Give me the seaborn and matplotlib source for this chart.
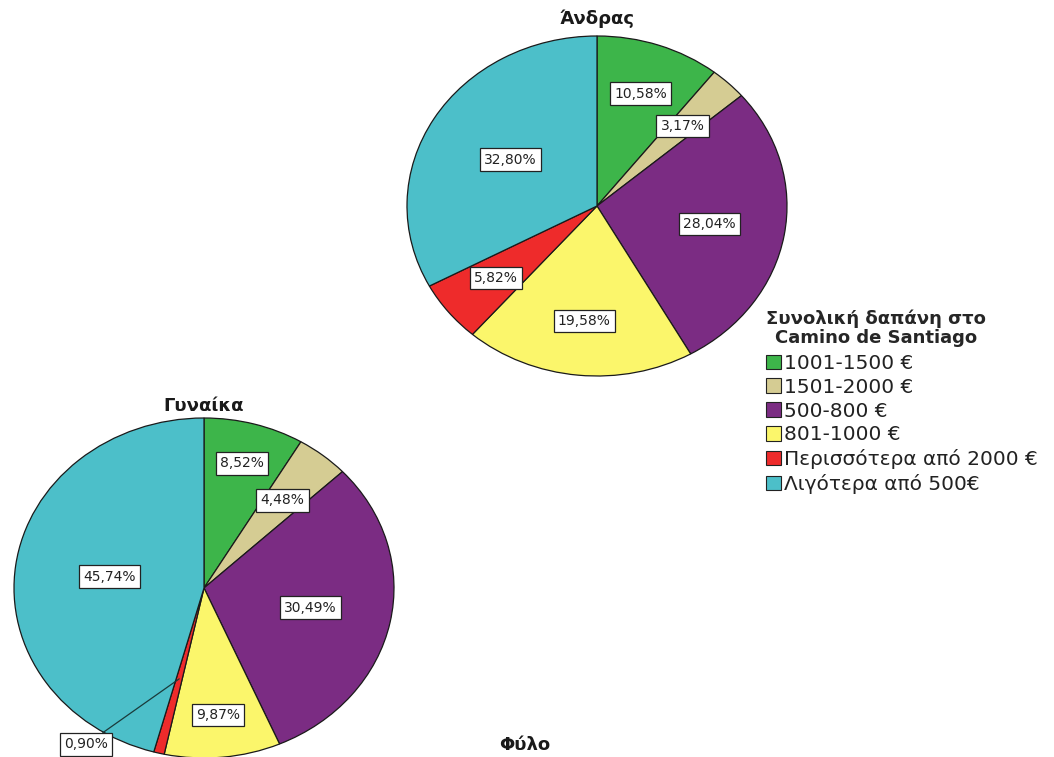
import matplotlib
matplotlib.use("Agg")
import matplotlib.pyplot as plt
from matplotlib.patches import Patch
import numpy as np
import seaborn as sns

sns.set_theme(style="white")
plt.rcParams["font.family"] = ["DejaVu Sans"]

# ─── data ────────────────────────────────────────────────────────────────────
categories = ["1001-1500 €", "1501-2000 €", "500-800 €", "801-1000 €",
              "Περισσότερα από 2000 €", "Λιγότερα από 500€"]
men_pct = [10.58, 3.17, 28.04, 19.58, 5.82, 32.80]
women_pct = [8.52, 4.48, 30.49, 9.87, 0.90, 45.74]
group_titles = ["Άνδρας", "Γυναίκα"]
legend_title = "Συνολική δαπάνη στο\nCamino de Santiago"
axis_title = "Φύλο"

colors = sns.color_palette(["#3DB54A", "#D5CC93", "#7B2C83", "#FBF66B", "#EE2B2B", "#4CBFC9"])

W, H = 1054, 757
fig = plt.figure(figsize=(W / 100, H / 100), dpi=100)
fig.patch.set_facecolor("white")


def px_axes(cx, cy, rx, ry):
    return fig.add_axes([(cx - rx) / W, 1 - (cy + ry) / H, 2 * rx / W, 2 * ry / H])


def fmt(v):
    return f"{v:.2f}".replace(".", ",") + "%"


def draw_pie(ax, values, label_r, title, title_off, callout=None):
    wedges, _ = ax.pie(values, colors=colors, startangle=90, counterclock=False,
                       radius=1, wedgeprops=dict(edgecolor="#1a1a1a", linewidth=0.9))
    ax.set_aspect("auto")
    ax.set_xlim(-1, 1)
    ax.set_ylim(-1, 1)
    ax.axis("off")
    box = dict(boxstyle="square,pad=0.3", facecolor="white", edgecolor="#222222", linewidth=0.9)
    for i, (w, v) in enumerate(zip(wedges, values)):
        mid = np.deg2rad((w.theta1 + w.theta2) / 2)
        if callout is not None and i == callout[0]:
            r0 = 0.55
            ax.annotate(fmt(v), xy=(r0 * np.cos(mid), r0 * np.sin(mid)),
                        xytext=callout[1], ha="center", va="center", fontsize=10,
                        color="#222222", bbox=box, annotation_clip=False,
                        arrowprops=dict(arrowstyle="-", color="#1a3a3a", lw=0.9,
                                        shrinkA=0, shrinkB=0))
            continue
        r = label_r[i]
        ax.text(r * np.cos(mid), r * np.sin(mid), fmt(v), ha="center", va="center",
                fontsize=10, color="#222222", bbox=box)
    ax.text(0, title_off, title, ha="center", va="bottom", fontsize=13, fontweight="bold",
            color="#1a1a1a")


ax_m = px_axes(597, 206, 190, 170)
draw_pie(ax_m, men_pct, [0.70, 0.65, 0.60, 0.68, 0.68, 0.53], group_titles[0], 1.05)

ax_w = px_axes(204, 588, 190, 170)
draw_pie(ax_w, women_pct, [0.76, 0.66, 0.57, 0.75, 0.6, 0.50], group_titles[1], 1.02,
         callout=(4, (-0.62, -0.92)))

fig.text(525 / W, 1 - 745 / H, axis_title, ha="center", va="center", fontsize=13,
         fontweight="bold", color="#1a1a1a")

handles = [Patch(facecolor=c, edgecolor="#222222", linewidth=0.8) for c in colors]
leg = fig.legend(handles, categories, loc="upper left", bbox_to_anchor=(766 / W, 1 - 309 / H),
                 frameon=False, fontsize=14.5, title=legend_title,
                 title_fontproperties=dict(weight="bold", size=13),
                 handlelength=0.74, handleheight=0.74, handletextpad=0.15,
                 labelspacing=0.24, borderaxespad=0, borderpad=0)
leg._legend_box.align = "left"
leg._legend_box.sep = 5
leg.get_title().set_ha("center")
leg.get_title().set_multialignment("center")
leg.get_title().set_linespacing(1.1)
for t in leg.get_texts():
    t.set_color("#222222")

fig.savefig("out.png", dpi=100)
plt.close(fig)
